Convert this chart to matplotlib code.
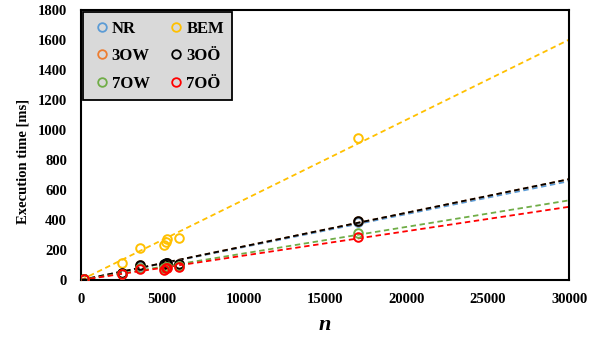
import numpy as np
import matplotlib
matplotlib.use("Agg")
import matplotlib.pyplot as plt
from matplotlib.lines import Line2D

n_vals = [200, 2500, 3600, 5100, 5200, 5300, 6000, 17000]

series_names = ["NR", "3OW", "7OW", "BEM", "3OÖ", "7OÖ"]
series_colors = ["#5b9bd5", "#ed7d31", "#70ad47", "#ffc000", "#000000", "#ff0000"]

nr_vals   = [5, 42, 95, 100, 108, 112, 105, 388]
ow3_vals  = [5, 44, 98, 102, 110, 115, 108, 395]
ow7_vals  = [5, 40, 80, 78, 85, 90, 92, 310]
bem_vals  = [10, 115, 215, 230, 250, 270, 280, 945]
oo3_vals  = [5, 45, 100, 105, 112, 116, 110, 392]
oo7_vals  = [5, 38, 75, 70, 78, 82, 85, 285]

series_vals = [nr_vals, ow3_vals, ow7_vals, bem_vals, oo3_vals, oo7_vals]

x_ticks = [0, 5000, 10000, 15000, 20000, 25000, 30000]
y_ticks = [0, 200, 400, 600, 800, 1000, 1200, 1400, 1600, 1800]

serif = ["Liberation Serif", "DejaVu Serif"]
plt.rcParams["font.family"] = serif

fig = plt.figure(figsize=(6.02, 3.39), dpi=100)
ax = fig.add_axes([0.1345, 0.174, 0.811, 0.797])

draw_order = [3, 0, 1, 4, 2, 5]
xline = np.array([0, 30000])
for i in draw_order:
    x = np.array(n_vals, dtype=float)
    y = np.array(series_vals[i], dtype=float)
    c = series_colors[i]
    ax.plot(x, y, linestyle="none", marker="o", markersize=6.2, markerfacecolor="none",
            markeredgecolor=c, markeredgewidth=1.4, zorder=3)
    k = np.sum(x * y) / np.sum(x * x)
    ax.plot(xline, k * xline, linestyle=(0, (3, 2)), color=c, linewidth=1.3, zorder=2)

ax.set_xlim(0, 30000)
ax.set_ylim(0, 1800)
ax.set_xticks(x_ticks)
ax.set_yticks(y_ticks)
ax.tick_params(axis="x", length=0, pad=9.5)
ax.tick_params(axis="y", length=0, pad=10)
for lab in ax.get_xticklabels() + ax.get_yticklabels():
    lab.set_fontweight("bold")
    lab.set_fontsize(10.5)
for s in ax.spines.values():
    s.set_linewidth(1.5)
    s.set_color("black")

ax.set_xlabel("n", fontsize=16, fontweight="bold", fontstyle="italic", labelpad=6)
ax.set_ylabel("Execution time [ms]", fontsize=10.5, fontweight="bold", labelpad=3)
ax.yaxis.set_label_coords(-0.105, 0.44)

handles = [Line2D([], [], linestyle="none", marker="o", markersize=6.2, markerfacecolor="none",
                  markeredgecolor=c, markeredgewidth=1.3) for c in series_colors]
leg = ax.legend(handles, series_names, ncol=2, loc="upper left", bbox_to_anchor=(0.0, 1.0),
                prop={"family": serif, "weight": "bold", "size": 12},
                frameon=True, fancybox=False, handletextpad=0.0, columnspacing=1.0,
                borderpad=0.5, labelspacing=0.7, handlelength=1.2,
                borderaxespad=0.15)
leg.get_frame().set_facecolor("#d9d9d9")
leg.get_frame().set_edgecolor("black")
leg.get_frame().set_linewidth(1.3)
leg.get_frame().set_alpha(1)

fig.savefig("out.png", dpi=100)
